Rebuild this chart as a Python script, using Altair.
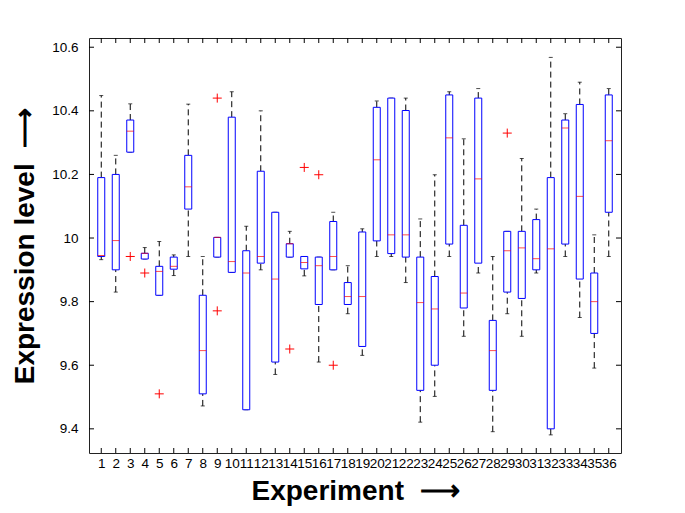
import altair as alt
import pandas as pd

experiments = list(range(1, 37))
lower_whisker = [9.932, 9.83, 10.27, 9.934, 9.82, 9.882, 9.942, 9.472, 9.94, 9.892,
                 9.46, 9.90, 9.571, 9.94, 9.881, 9.61, 9.90, 9.762, 9.631, 9.942,
                 9.942, 9.86, 9.421, 9.502, 9.942, 9.691, 9.89, 9.391, 9.762, 9.691,
                 9.89, 9.381, 9.942, 9.75, 9.591, 9.942]
q1 = [9.942, 9.90, 10.27, 9.934, 9.82, 9.902, 10.091, 9.51, 9.94, 9.892,
      9.46, 9.921, 9.61, 9.94, 9.903, 9.791, 9.90, 9.791, 9.659, 9.991,
      9.951, 9.94, 9.521, 9.60, 9.981, 9.78, 9.921, 9.521, 9.83, 9.81,
      9.90, 9.40, 9.981, 9.871, 9.70, 10.081]
median = [9.945, 9.992, 10.336, 9.952, 9.895, 9.911, 10.161, 9.646, 10.002, 9.926,
          9.89, 9.942, 9.871, 9.982, 9.923, 9.913, 9.942, 9.816, 9.816, 10.246,
          10.01, 10.01, 9.797, 9.777, 10.315, 9.827, 10.186, 9.646, 9.96, 9.969,
          9.935, 9.966, 10.346, 10.131, 9.80, 10.306]
q3 = [10.19, 10.20, 10.371, 9.952, 9.911, 9.94, 10.26, 9.82, 10.002, 10.38,
      9.96, 10.21, 10.081, 9.982, 9.942, 9.94, 10.052, 9.86, 10.019, 10.411,
      10.44, 10.401, 9.94, 9.879, 10.45, 10.04, 10.44, 9.741, 10.021, 10.021,
      10.058, 10.19, 10.371, 10.42, 9.89, 10.45]
upper_whisker = [10.448, 10.26, 10.422, 9.97, 9.989, 9.947, 10.421, 9.942, 10.002, 10.46,
                 10.037, 10.40, 10.081, 10.021, 9.942, 9.94, 10.081, 9.913, 10.029, 10.431,
                 10.44, 10.44, 10.06, 10.199, 10.46, 10.312, 10.47, 9.942, 10.021, 10.25,
                 10.091, 10.568, 10.391, 10.49, 10.01, 10.47]
outlier_exp = [3, 4, 5, 9, 9, 14, 15, 16, 17, 29]
outlier_val = [9.942, 9.89, 9.51, 10.44, 9.771, 9.651, 10.222, 10.199, 9.60, 10.33]
y_ticks = [9.4, 9.6, 9.8, 10.0, 10.2, 10.4, 10.6]

W, H = 532, 415

df = pd.DataFrame({"exp": experiments, "lw": lower_whisker, "q1": q1,
                   "med": median, "q3": q3, "uw": upper_whisker})
out = pd.DataFrame({"exp": outlier_exp, "val": outlier_val})
xt = pd.DataFrame({"t": experiments})
yt = pd.DataFrame({"t": y_ticks})

xscale = alt.Scale(domain=[0.5, 36.5], nice=False, zero=False)
yscale = alt.Scale(domain=[9.324, 10.629], nice=False, zero=False)

xaxis = alt.Axis(values=experiments, title="Experiment\u00a0\u00a0\u27f6", labelOverlap=False,
                 grid=False, ticks=False, domain=False, labelPadding=3, labelFontSize=13.5,
                 titleFontSize=28, titleFontWeight="bold", titlePadding=8, labelAngle=0,
                 format="d", labelFlush=False)
yaxis = alt.Axis(values=y_ticks, title="Expression level\u00a0\u00a0\u27f6", grid=False, ticks=False,
                 domain=False, labelPadding=11, labelFontSize=13.5, titleFontSize=28,
                 titleFontWeight="bold", titlePadding=12, format="~g", labelFlush=False)


def X(f):
    return alt.X(f, type="quantitative", scale=xscale, axis=xaxis)


def Y(f):
    return alt.Y(f, type="quantitative", scale=yscale, axis=yaxis)


base = alt.Chart(df)

upper = base.mark_rule(strokeDash=[6, 4], color="black", strokeWidth=1).encode(
    x=X("exp"), y=Y("q3"), y2="uw:Q")
lower = base.mark_rule(strokeDash=[6, 4], color="black", strokeWidth=1).encode(
    x=X("exp"), y=Y("lw"), y2="q1:Q")
capU = base.mark_tick(orient="horizontal", size=4, thickness=1, color="black").encode(
    x=X("exp"), y=Y("uw"))
capL = base.mark_tick(orient="horizontal", size=4, thickness=1, color="black").encode(
    x=X("exp"), y=Y("lw"))
box = base.mark_bar(size=7, fill="white", stroke="#0000ff", strokeWidth=1).encode(
    x=X("exp"), y=Y("q1"), y2="q3:Q")
med = base.mark_tick(orient="horizontal", size=7, thickness=1, color="#ff0000").encode(
    x=X("exp"), y=Y("med"))
outl = alt.Chart(out).mark_point(shape="M-1,0L1,0M0,-1L0,1", size=81, filled=False,
                                 color="#ff0000", strokeWidth=1, opacity=1).encode(
    x=X("exp"), y=Y("val"))

tb = alt.Chart(xt).mark_rule(color="black").encode(x=X("t"), y=alt.value(H), y2=alt.value(H - 5))
tt = alt.Chart(xt).mark_rule(color="black").encode(x=X("t"), y=alt.value(0), y2=alt.value(5))
tl = alt.Chart(yt).mark_rule(color="black").encode(y=Y("t"), x=alt.value(0), x2=alt.value(5))
tr = alt.Chart(yt).mark_rule(color="black").encode(y=Y("t"), x=alt.value(W), x2=alt.value(W - 5))

chart = alt.layer(upper, lower, capU, capL, box, med, outl, tb, tt, tl, tr).properties(
    width=W, height=H,
    autosize=alt.AutoSizeParams(type="none"),
    padding={"left": 89, "top": 38, "right": 64, "bottom": 60},
    background="white",
).configure_view(stroke="#222222", strokeWidth=1).configure_axis(
    labelFont="Liberation Sans", titleFont="Liberation Sans",
    labelColor="black", titleColor="black")

chart.save("out.html", embed_options={"renderer": "svg", "actions": False})
